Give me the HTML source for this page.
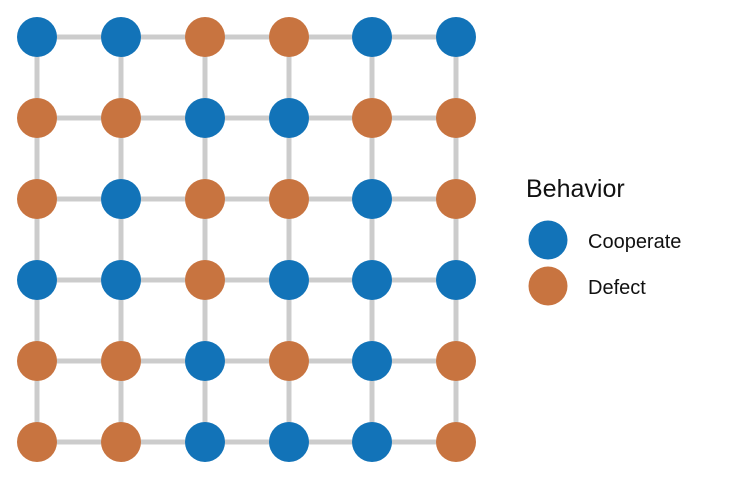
<!DOCTYPE html>
<html><head><meta charset="utf-8"><style>html,body{margin:0;padding:0;background:#fff}</style></head>
<body>
<svg width="739" height="480" viewBox="0 0 739 480" xmlns="http://www.w3.org/2000/svg">
<g stroke="#cccccc" stroke-width="5">
<line x1="37" y1="37" x2="456" y2="37"/><line x1="37" y1="118" x2="456" y2="118"/><line x1="37" y1="199" x2="456" y2="199"/><line x1="37" y1="280" x2="456" y2="280"/><line x1="37" y1="361" x2="456" y2="361"/><line x1="37" y1="442" x2="456" y2="442"/>
<line x1="37" y1="37" x2="37" y2="442"/><line x1="121" y1="37" x2="121" y2="442"/><line x1="205" y1="37" x2="205" y2="442"/><line x1="289" y1="37" x2="289" y2="442"/><line x1="372" y1="37" x2="372" y2="442"/><line x1="456" y1="37" x2="456" y2="442"/>
</g>
<g id="nodes"></g>
<text x="526" y="197" font-family="Liberation Sans, sans-serif" font-size="25" fill="#111">Behavior</text>
<circle cx="548" cy="240" r="19.5" fill="#1273b8"/>
<circle cx="548" cy="286" r="19.5" fill="#c87440"/>
<text x="588" y="248" font-family="Liberation Sans, sans-serif" font-size="20" fill="#111">Cooperate</text>
<text x="588" y="294" font-family="Liberation Sans, sans-serif" font-size="20" fill="#111">Defect</text>
<g>
<!-- row 1 --><circle cx="37" cy="37" r="20" fill="#1273b8"/><circle cx="121" cy="37" r="20" fill="#1273b8"/><circle cx="205" cy="37" r="20" fill="#c87440"/><circle cx="289" cy="37" r="20" fill="#c87440"/><circle cx="372" cy="37" r="20" fill="#1273b8"/><circle cx="456" cy="37" r="20" fill="#1273b8"/>
<!-- row 2 --><circle cx="37" cy="118" r="20" fill="#c87440"/><circle cx="121" cy="118" r="20" fill="#c87440"/><circle cx="205" cy="118" r="20" fill="#1273b8"/><circle cx="289" cy="118" r="20" fill="#1273b8"/><circle cx="372" cy="118" r="20" fill="#c87440"/><circle cx="456" cy="118" r="20" fill="#c87440"/>
<!-- row 3 --><circle cx="37" cy="199" r="20" fill="#c87440"/><circle cx="121" cy="199" r="20" fill="#1273b8"/><circle cx="205" cy="199" r="20" fill="#c87440"/><circle cx="289" cy="199" r="20" fill="#c87440"/><circle cx="372" cy="199" r="20" fill="#1273b8"/><circle cx="456" cy="199" r="20" fill="#c87440"/>
<!-- row 4 --><circle cx="37" cy="280" r="20" fill="#1273b8"/><circle cx="121" cy="280" r="20" fill="#1273b8"/><circle cx="205" cy="280" r="20" fill="#c87440"/><circle cx="289" cy="280" r="20" fill="#1273b8"/><circle cx="372" cy="280" r="20" fill="#1273b8"/><circle cx="456" cy="280" r="20" fill="#1273b8"/>
<!-- row 5 --><circle cx="37" cy="361" r="20" fill="#c87440"/><circle cx="121" cy="361" r="20" fill="#c87440"/><circle cx="205" cy="361" r="20" fill="#1273b8"/><circle cx="289" cy="361" r="20" fill="#c87440"/><circle cx="372" cy="361" r="20" fill="#1273b8"/><circle cx="456" cy="361" r="20" fill="#c87440"/>
<!-- row 6 --><circle cx="37" cy="442" r="20" fill="#c87440"/><circle cx="121" cy="442" r="20" fill="#c87440"/><circle cx="205" cy="442" r="20" fill="#1273b8"/><circle cx="289" cy="442" r="20" fill="#1273b8"/><circle cx="372" cy="442" r="20" fill="#1273b8"/><circle cx="456" cy="442" r="20" fill="#c87440"/>
</g>
</svg>
</body></html>
